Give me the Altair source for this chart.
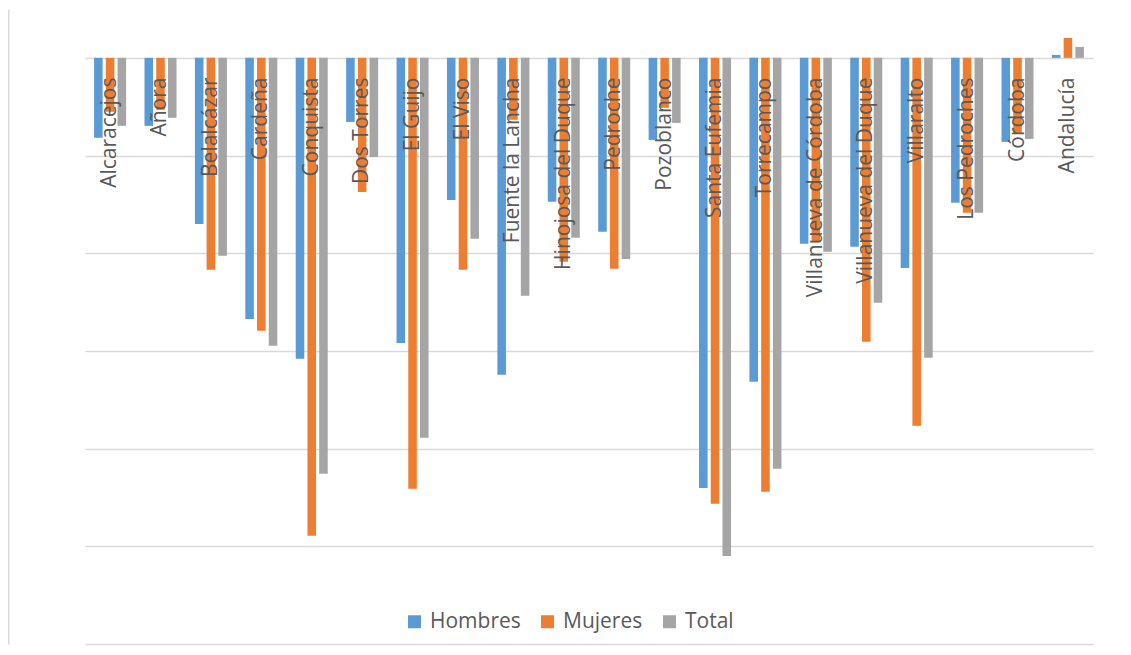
import altair as alt
import pandas as pd

categories = ["Alcaracejos", "Añora", "Belalcázar", "Cardeña", "Conquista", "Dos Torres",
              "El Guijo", "El Viso", "Fuente la Lancha", "Hinojosa del Duque", "Pedroche",
              "Pozoblanco", "Santa Eufemia", "Torrecampo", "Villanueva de Córdoba",
              "Villanueva del Duque", "Villaralto", "Los Pedroches", "Córdoba", "Andalucía"]
hombres = [-4.09, -3.48, -8.50, -13.36, -15.40, -3.28, -14.59, -7.27, -16.22, -7.37, -8.90,
           -4.20, -22.01, -16.58, -9.52, -9.67, -10.75, -7.42, -4.30, 0.15]
mujeres = [-2.76, -2.66, -10.85, -13.97, -24.46, -6.86, -22.06, -10.85, -3.17, -10.44, -10.80,
           -2.56, -22.82, -22.21, -9.37, -14.53, -18.83, -7.93, -3.84, 1.02]
total = [-3.48, -3.07, -10.13, -14.74, -21.29, -5.07, -19.45, -9.26, -12.18, -9.21, -10.29,
         -3.33, -25.49, -21.03, -9.93, -12.54, -15.35, -7.93, -4.15, 0.56]
series = ["Hombres", "Mujeres", "Total"]
colors = ["#5B9BD5", "#ED7D31", "#A5A5A5"]
grid_values = [-30, -25, -20, -15, -10, -5, 0]

rows = []
for s, vals in zip(series, [hombres, mujeres, total]):
    for c, v in zip(categories, vals):
        rows.append({"Municipio": c, "Serie": s, "Valor": v})
df = pd.DataFrame(rows)

FONT = "Open Sans"
TXT = "#595959"

chart = alt.Chart(df).mark_bar().encode(
    x=alt.X("Municipio:N", sort=categories,
            scale=alt.Scale(paddingInner=0.365, paddingOuter=0.18),
            axis=alt.Axis(title=None, orient="bottom", offset=-586, labelAngle=270,
                          labelPadding=19, ticks=False, domain=False, grid=False,
                          labelFont=FONT, labelFontSize=21, labelColor=TXT,
                          labelLimit=400, labelOverlap=False, zindex=1)),
    xOffset=alt.XOffset("Serie:N", sort=series, scale=alt.Scale(paddingInner=0.27)),
    y=alt.Y("Valor:Q", scale=alt.Scale(domain=[-30, 2.5], nice=False, zero=False),
            axis=alt.Axis(title=None, values=grid_values, labels=False, ticks=False,
                          domain=True, domainColor="#D9D9D9", domainWidth=2, offset=77,
                          grid=True, gridColor="#D9D9D9", gridWidth=1.5)),
    color=alt.Color("Serie:N", sort=series,
                    scale=alt.Scale(domain=series, range=colors),
                    legend=alt.Legend(title=None, orient="none", legendX=319, legendY=602,
                                      direction="horizontal", symbolType="square",
                                      symbolSize=169, symbolStrokeWidth=0,
                                      labelFont=FONT, labelFontSize=21, labelColor=TXT,
                                      labelOffset=5, columnPadding=16)),
).properties(
    width=1008, height=635,
    padding={"left": 0, "top": 1, "right": 5, "bottom": 5},
    background="white",
).configure_view(stroke=None)

chart.save("out.html", embed_options={"renderer": "svg", "actions": False})
